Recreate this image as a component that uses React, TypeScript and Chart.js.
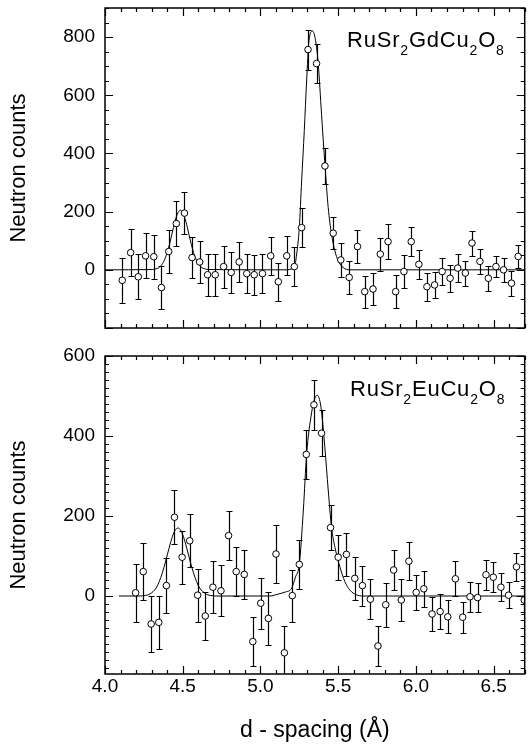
import React, { useEffect, useRef } from 'react';
import { Chart, registerables } from 'chart.js';

Chart.register(...registerables);

const FONT = "'Liberation Sans', Arial, Helvetica, sans-serif";

// ---------- axis settings ----------
const X_MIN = 4.0;
const X_MAX = 6.7;
const xTickValues = [4.0, 4.5, 5.0, 5.5, 6.0, 6.5];
const topYTickValues = [0, 200, 400, 600, 800];
const bottomYTickValues = [0, 200, 400, 600];

// ---------- RuSr2GdCu2O8 (top panel) ----------
const topD = [4.111, 4.165, 4.214, 4.261, 4.314, 4.363, 4.41, 4.459, 4.511, 4.56, 4.609, 4.66, 4.709, 4.763, 4.812, 4.863, 4.912, 4.96, 5.013, 5.066, 5.115, 5.169, 5.218, 5.265, 5.306, 5.361, 5.415, 5.468, 5.517, 5.571, 5.624, 5.671, 5.724, 5.771, 5.821, 5.87, 5.923, 5.97, 6.019, 6.071, 6.12, 6.169, 6.22, 6.269, 6.318, 6.361, 6.412, 6.466, 6.515, 6.564, 6.615, 6.658];
const topCounts = [-36, 59, -24, 48, 45, -61, 63, 159, 195, 42, 27, -17, -17, 11, -9, 27, -13, -17, -13, 48, -41, 48, 11, 145, 757, 709, 357, 126, 34, -26, 80, -75, -66, 54, 97, -75, -6, 97, 19, -58, -52, -6, -29, 6, -11, 92, 29, -29, 11, 0, -46, 46];
const topErrors = [78, 80, 77, 77, 76, 74, 73, 76, 73, 70, 72, 73, 72, 72, 70, 70, 68, 68, 66, 65, 65, 67, 66, 68, 69, 66, 63, 56, 58, 56, 56, 55, 55, 57, 61, 57, 56, 49, 50, 48, 46, 46, 46, 47, 43, 43, 43, 43, 37, 41, 43, 40];
const topFitD = [4.0, 4.305, 4.325, 4.345, 4.365, 4.385, 4.405, 4.425, 4.445, 4.465, 4.485, 4.505, 4.525, 4.545, 4.565, 4.585, 4.605, 4.625, 4.645, 4.665, 5.17, 5.2, 5.218, 5.233, 5.25, 5.265, 5.282, 5.297, 5.312, 5.335, 5.355, 5.372, 5.393, 5.415, 5.436, 5.457, 5.479, 5.5, 5.532, 5.575, 6.7];
const topFitCounts = [0, 1, 3, 7, 17, 37, 68, 110, 156, 191, 205, 191, 156, 110, 68, 37, 17, 7, 3, 1, 0, 3, 8, 54, 145, 306, 478, 649, 787, 821, 787, 707, 535, 360, 214, 123, 65, 31, 8, 0, 0];

// ---------- RuSr2EuCu2O8 (bottom panel) ----------
const bottomD = [4.197, 4.246, 4.297, 4.346, 4.395, 4.447, 4.496, 4.545, 4.596, 4.645, 4.694, 4.746, 4.795, 4.844, 4.896, 4.951, 5.002, 5.051, 5.1, 5.154, 5.205, 5.25, 5.295, 5.344, 5.393, 5.451, 5.5, 5.553, 5.607, 5.656, 5.707, 5.756, 5.806, 5.857, 5.906, 5.955, 6.002, 6.051, 6.104, 6.156, 6.205, 6.254, 6.301, 6.348, 6.397, 6.451, 6.498, 6.547, 6.596, 6.647, 6.697];
const bottomCounts = [8, 61, -70, -66, 26, 197, 97, 138, 2, -50, 22, 13, 151, 61, 54, -114, -18, -56, 105, -142, 1, 79, 354, 478, 407, 171, 97, 104, 44, 26, -8, -125, -22, 65, -10, 87, 9, 18, -45, -39, -52, 43, -53, -2, -4, 53, 47, 22, 2, 73, -10];
const bottomErrors = [73, 72, 70, 67, 68, 68, 66, 66, 66, 61, 65, 64, 62, 61, 62, 61, 64, 67, 72, 67, 65, 62, 62, 62, 58, 56, 56, 53, 53, 50, 50, 51, 55, 51, 52, 47, 44, 45, 42, 43, 41, 44, 39, 37, 37, 37, 38, 35, 33, 35, 35];
const bottomFitD = [4.09, 4.229, 4.249, 4.269, 4.289, 4.309, 4.329, 4.349, 4.369, 4.389, 4.409, 4.429, 4.449, 4.469, 4.489, 4.509, 4.529, 4.549, 4.569, 4.589, 4.609, 4.629, 4.649, 4.669, 4.689, 4.709, 5.06, 5.115, 5.16, 5.2, 5.226, 5.25, 5.276, 5.297, 5.329, 5.346, 5.365, 5.389, 5.414, 5.436, 5.457, 5.483, 5.511, 5.543, 5.575, 5.617, 5.66, 6.7];
const bottomFitCounts = [0, 0, 1, 2, 5, 11, 20, 36, 58, 85, 115, 143, 163, 170, 163, 143, 115, 85, 58, 36, 20, 11, 5, 2, 1, 0, 0, 5, 10, 19, 48, 79, 215, 354, 458, 490, 502, 473, 373, 265, 173, 115, 73, 36, 15, 3, 0, 0];

const topFormula: [string, boolean][] = [['RuSr', false], ['2', true], ['GdCu', false], ['2', true], ['O', false], ['8', true]];
const bottomFormula: [string, boolean][] = [['RuSr', false], ['2', true], ['EuCu', false], ['2', true], ['O', false], ['8', true]];

const crisp = (v: number) => Math.round(v) + 0.5;

const panelPlugin = {
  id: 'panel',
  beforeDatasetsDraw(chart: any, _args: any, opts: any) {
    const { ctx, chartArea: a, scales } = chart;
    const x = scales.x, y = scales.y;
    const ds = chart.data.datasets[0];
    const errs: number[] = opts.errors || [];
    ctx.save();
    ctx.beginPath();
    ctx.rect(a.left, a.top, a.right - a.left, a.bottom - a.top);
    ctx.clip();
    ctx.strokeStyle = '#000';
    ctx.lineWidth = 1.2;
    ds.data.forEach((p: any, i: number) => {
      const px = crisp(x.getPixelForValue(p.x));
      const y1 = Math.round(y.getPixelForValue(p.y + errs[i])) + 0.5;
      const y2 = Math.round(y.getPixelForValue(p.y - errs[i])) + 0.5;
      ctx.beginPath();
      ctx.moveTo(px, y1);
      ctx.lineTo(px, y2);
      ctx.moveTo(px - 3, y1);
      ctx.lineTo(px + 3, y1);
      ctx.moveTo(px - 3, y2);
      ctx.lineTo(px + 3, y2);
      ctx.stroke();
    });
    ctx.restore();
  },
  afterDraw(chart: any, _args: any, opts: any) {
    const { ctx, chartArea: a, scales } = chart;
    const x = scales.x, y = scales.y;
    ctx.save();
    ctx.strokeStyle = '#000';
    ctx.lineWidth = 1.2;
    const majorLen = 8, minorLen = 4;
    const xMinor = 0.1, xMajor = 0.5;
    const yMinor: number = opts.yMinor, yMajor = 200;
    ctx.beginPath();
    for (let k = Math.ceil(X_MIN / xMinor - 1e-6); k * xMinor <= X_MAX + 1e-6; k++) {
      const v = k * xMinor;
      const isMajor = Math.abs(v / xMajor - Math.round(v / xMajor)) < 1e-6;
      const len = isMajor ? majorLen : minorLen;
      const px = crisp(x.getPixelForValue(v));
      ctx.moveTo(px, a.bottom);
      ctx.lineTo(px, a.bottom - len);
      ctx.moveTo(px, a.top);
      ctx.lineTo(px, a.top + len);
    }
    for (let k = Math.ceil(y.min / yMinor - 1e-6); k * yMinor <= y.max + 1e-6; k++) {
      const v = k * yMinor;
      const isMajor = Math.abs(v / yMajor - Math.round(v / yMajor)) < 1e-6;
      const len = isMajor ? majorLen : minorLen;
      const py = crisp(y.getPixelForValue(v));
      ctx.moveTo(a.left, py);
      ctx.lineTo(a.left + len, py);
      ctx.moveTo(a.right, py);
      ctx.lineTo(a.right - len, py);
    }
    ctx.stroke();
    // frame
    ctx.lineWidth = 1.5;
    ctx.strokeRect(a.left, a.top, a.right - a.left, a.bottom - a.top);

    // tick labels
    ctx.fillStyle = '#000';
    ctx.font = `19px ${FONT}`;
    ctx.textAlign = 'right';
    ctx.textBaseline = 'middle';
    (opts.yTicks as number[]).forEach((v) => {
      ctx.fillText(String(v), a.left - 10, y.getPixelForValue(v));
    });
    if (opts.showX) {
      ctx.textAlign = 'center';
      xTickValues.forEach((v) => {
        ctx.fillText(v.toFixed(1), x.getPixelForValue(v), a.bottom + 13);
      });
    }

    // formula label
    const parts: [string, boolean][] = opts.formula || [];
    let tx = a.left + opts.labelDx;
    const ty = a.top + opts.labelDy;
    ctx.textBaseline = 'alphabetic';
    ctx.textAlign = 'left';
    (ctx as any).letterSpacing = '0.8px';
    parts.forEach(([t, sub]) => {
      ctx.font = sub ? `14px ${FONT}` : `22px ${FONT}`;
      ctx.fillText(t, tx, sub ? ty + 8 : ty);
      tx += ctx.measureText(t).width;
    });
    ctx.restore();
  },
};

function makeConfig(
  d: number[], c: number[], fd: number[], fc: number[], errs: number[],
  yMin: number, yMax: number, yTicks: number[], yMinor: number,
  formula: [string, boolean][], labelDx: number, labelDy: number,
  padding: any, showX: boolean
): any {
  return {
    type: 'scatter',
    data: {
      datasets: [
        {
          data: d.map((v, i) => ({ x: v, y: c[i] })),
          showLine: false,
          pointRadius: 3.3,
          pointHoverRadius: 3.3,
          pointBorderWidth: 1,
          pointBorderColor: '#000',
          pointBackgroundColor: '#fff',
          clip: 0,
        },
        {
          data: fd.map((v, i) => ({ x: v, y: fc[i] })),
          showLine: true,
          pointRadius: 0,
          pointHoverRadius: 0,
          borderColor: '#000',
          borderWidth: 1,
          cubicInterpolationMode: 'monotone',
          fill: false,
        },
      ],
    },
    options: {
      animation: false,
      responsive: false,
      events: [],
      layout: { padding },
      plugins: {
        legend: { display: false },
        tooltip: { enabled: false },
        panel: { errors: errs, yMinor, yTicks, formula, labelDx, labelDy, showX },
      },
      scales: {
        x: showX
          ? {
              type: 'linear', min: X_MIN, max: X_MAX,
              afterFit: (s: any) => { s.height = 71; },
              grid: { display: false, drawTicks: false },
              border: { display: false },
              ticks: { display: false },
              title: {
                display: true, text: 'd - spacing (Å)', color: '#000',
                font: { family: FONT, size: 23 }, padding: { top: 0, bottom: 1 },
              },
            }
          : { type: 'linear', min: X_MIN, max: X_MAX, display: false },
        y: {
          type: 'linear', min: yMin, max: yMax,
          afterFit: (s: any) => { s.width = 105; },
          grid: { display: false, drawTicks: false },
          border: { display: false },
          ticks: { display: false },
          title: {
            display: true, text: 'Neutron counts', color: '#000',
            font: { family: FONT, size: 22 }, padding: { top: 6, bottom: 0 },
          },
        },
      },
    },
    plugins: [panelPlugin],
  };
}

export default function App() {
  const topRef = useRef<HTMLCanvasElement>(null);
  const botRef = useRef<HTMLCanvasElement>(null);

  useEffect(() => {
    const c1 = new Chart(
      topRef.current as HTMLCanvasElement,
      makeConfig(topD, topCounts, topFitD, topFitCounts, topErrors,
        -200, 900, topYTickValues, 50, topFormula, 242, 39,
        { top: 8, right: 2, bottom: 12, left: 0 }, false)
    );
    const c2 = new Chart(
      botRef.current as HTMLCanvasElement,
      makeConfig(bottomD, bottomCounts, bottomFitD, bottomFitCounts, bottomErrors,
        -195, 600, bottomYTickValues, 20, bottomFormula, 245, 40,
        { top: 16, right: 2, bottom: 0, left: 0 }, true)
    );
    return () => { c1.destroy(); c2.destroy(); };
  }, []);

  return (
    <div style={{ position: 'absolute', left: 0, top: 0, width: 529, height: 745, background: '#fff' }}>
      <canvas ref={topRef} width={529} height={340} style={{ position: 'absolute', left: 0, top: 0, width: 529, height: 340 }} />
      <canvas ref={botRef} width={529} height={405} style={{ position: 'absolute', left: 0, top: 340, width: 529, height: 405 }} />
    </div>
  );
}
